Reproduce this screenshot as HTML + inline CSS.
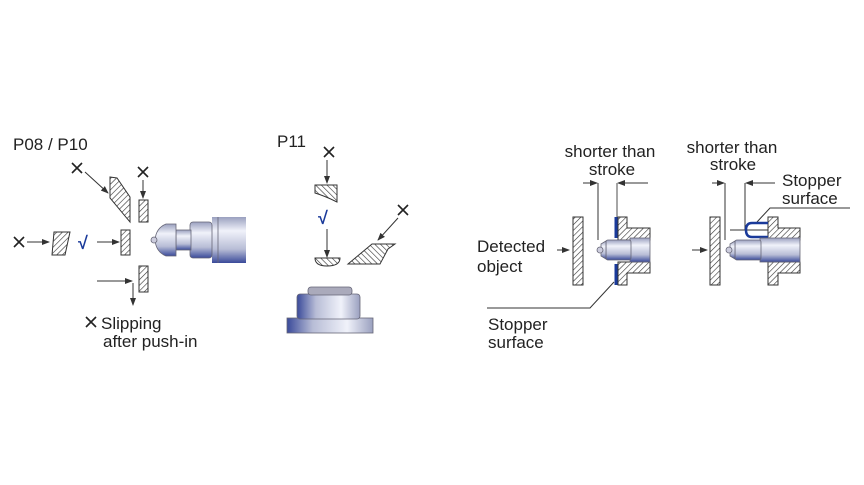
<!DOCTYPE html>
<html><head><meta charset="utf-8"><style>
html,body{margin:0;padding:0;background:#fff;width:864px;height:485px;overflow:hidden}
text{font-family:"Liberation Sans",sans-serif;fill:#222}
</style></head><body>
<svg width="864" height="485" viewBox="0 0 864 485" xmlns="http://www.w3.org/2000/svg">
<defs>
<pattern id="h" patternUnits="userSpaceOnUse" width="4" height="4" patternTransform="rotate(45)">
<rect width="4" height="4" fill="#fff"/><line x1="0" y1="0" x2="0" y2="4" stroke="#333" stroke-width="1.2"/></pattern>
<pattern id="h2" patternUnits="userSpaceOnUse" width="4" height="4" patternTransform="rotate(-45)">
<rect width="4" height="4" fill="#fff"/><line x1="0" y1="0" x2="0" y2="4" stroke="#333" stroke-width="1.2"/></pattern>
<linearGradient id="cyl" x1="0" y1="0" x2="0" y2="1">
<stop offset="0" stop-color="#9aa0bf"/><stop offset="0.3" stop-color="#f0f2fa"/><stop offset="0.7" stop-color="#b8bdd6"/><stop offset="1" stop-color="#3a4a9a"/></linearGradient>
<linearGradient id="cylh" x1="0" y1="0" x2="1" y2="0">
<stop offset="0" stop-color="#3a4a9a"/><stop offset="0.3" stop-color="#b8bdd6"/><stop offset="0.7" stop-color="#f0f2fa"/><stop offset="1" stop-color="#9aa0bf"/></linearGradient>
<marker id="a" markerWidth="8" markerHeight="6" refX="7" refY="3" orient="auto" markerUnits="userSpaceOnUse"><path d="M0,0L8,3L0,6z" fill="#333"/></marker>
</defs>
<g stroke="#222" stroke-width="1.6">
<path d="M72,163L82,173M82,163L72,173"/>
<path d="M138,167L148,177M148,167L138,177"/>
<path d="M14,237L24,247M24,237L14,247"/>
<path d="M324,147L334,157M334,147L324,157"/>
<path d="M398,205L408,215M408,205L398,215"/>
<path d="M86,317L96,327M96,317L86,327"/>
</g>
<g stroke="#333" stroke-width="1" fill="none">
<path d="M110,177L117,178L130,197L130,222L110,198Z" fill="url(#h)"/>
<line x1="85" y1="172" x2="108" y2="193" marker-end="url(#a)"/>
<line x1="143" y1="180" x2="143" y2="198" marker-end="url(#a)"/>
<rect x="139" y="200" width="9" height="22" fill="url(#h)"/>
<line x1="27" y1="242" x2="49" y2="242" marker-end="url(#a)"/>
<path d="M54,232L70,232L65,255L52,255Z" fill="url(#h)"/>
<line x1="97" y1="242" x2="119" y2="242" marker-end="url(#a)"/>
<rect x="121" y="230" width="9" height="25" fill="url(#h)"/>
<rect x="139" y="266" width="9" height="26" fill="url(#h)"/>
<line x1="97" y1="281" x2="132" y2="281" marker-end="url(#a)"/>
<line x1="133" y1="283" x2="133" y2="305" marker-end="url(#a)"/>
</g>
<g stroke="#667" stroke-width="0.8">
<rect x="212" y="217" width="34" height="46" fill="url(#cyl)" stroke="none"/>
<line x1="218" y1="217" x2="218" y2="263"/>
<rect x="190" y="222" width="22" height="36" rx="3" fill="url(#cyl)"/>
<rect x="176" y="230" width="15" height="20" fill="url(#cyl)"/>
<path d="M176,224L166,224Q156,228 155,240Q156,252 166,256L176,256Z" fill="url(#cyl)"/>
<circle cx="154" cy="240" r="3" fill="#ccd"/>
</g>
<text x="13" y="150" font-size="17">P08 / P10</text>
<text x="78" y="249" font-size="18" style="fill:#1a3a9a" font-weight="bold">√</text>
<text x="101" y="329" font-size="17">Slipping</text>
<text x="103" y="347" font-size="17">after push-in</text>

<text x="277" y="147" font-size="17">P11</text>
<text x="318" y="224" font-size="18" style="fill:#1a3a9a" font-weight="bold">√</text>
<g stroke="#333" stroke-width="1" fill="none">
<line x1="327" y1="160" x2="327" y2="183" marker-end="url(#a)"/>
<path d="M315,185L337,185L337,202Q325,196 315,193Z" fill="url(#h2)"/>
<line x1="327" y1="229" x2="327" y2="257" marker-end="url(#a)"/>
<path d="M315,258L340,258Q340,266 327,266Q315,266 315,258Z" fill="url(#h2)"/>
<path d="M348,264L372,244L395,244L388,249L380,264Z" fill="url(#h2)"/>
<line x1="398" y1="218" x2="378" y2="240" marker-end="url(#a)"/>
</g>
<g stroke="#667" stroke-width="0.8">
<rect x="287" y="318" width="86" height="15" fill="url(#cylh)"/>
<rect x="297" y="294" width="63" height="25" rx="3" fill="url(#cylh)"/>
<rect x="308" y="287" width="44" height="8" rx="3" fill="#aab"/>
</g>

<text x="610" y="157" font-size="17" text-anchor="middle">shorter than</text>
<text x="612" y="175" font-size="17" text-anchor="middle">stroke</text>
<text x="732" y="153" font-size="17" text-anchor="middle">shorter than</text>
<text x="733" y="170" font-size="17" text-anchor="middle">stroke</text>
<text x="477" y="252" font-size="17">Detected</text>
<text x="477" y="272" font-size="17">object</text>
<text x="488" y="330" font-size="17">Stopper</text>
<text x="488" y="348" font-size="17">surface</text>
<text x="782" y="186" font-size="17">Stopper</text>
<text x="782" y="204" font-size="17">surface</text>
<g stroke="#333" stroke-width="1" fill="none">
<line x1="583" y1="183" x2="597" y2="183" marker-end="url(#a)"/>
<line x1="648" y1="183" x2="618" y2="183" marker-end="url(#a)"/>
<line x1="598" y1="183" x2="598" y2="240"/>
<line x1="617" y1="183" x2="617" y2="218" stroke="#888" stroke-width="1.5"/>
<rect x="573" y="217" width="10" height="68" fill="url(#h)"/>
<line x1="557" y1="250" x2="569" y2="250" marker-end="url(#a)"/>
<path d="M618,217L627,217L627,228L650,228L650,240L618,240Z" fill="url(#h)"/>
<path d="M618,262L650,262L650,273L627,273L627,285L618,285Z" fill="url(#h)"/>
<polyline points="487,308 590,308 614,282"/>
<line x1="712" y1="183" x2="724" y2="183" marker-end="url(#a)"/>
<line x1="775" y1="183" x2="746" y2="183" marker-end="url(#a)"/>
<line x1="725" y1="183" x2="725" y2="240"/>
<line x1="745" y1="183" x2="745" y2="230"/>
<rect x="710" y="217" width="10" height="68" fill="url(#h)"/>
<line x1="692" y1="250" x2="707" y2="250" marker-end="url(#a)"/>
<path d="M768,217L778,217L778,228L800,228L800,240L768,240Z" fill="url(#h)"/>
<path d="M768,262L800,262L800,273L778,273L778,285L768,285Z" fill="url(#h)"/>
<line x1="730" y1="230" x2="768" y2="230"/>
<polyline points="850,208 770,208 757,222"/>
</g>
<line x1="616" y1="217" x2="616" y2="238" stroke="#1a3a9a" stroke-width="3"/>
<line x1="616" y1="264" x2="616" y2="285" stroke="#1a3a9a" stroke-width="3"/>
<path d="M768,223L752,223Q746,223 746,230Q746,237 752,237L768,237" stroke="#1a3a9a" stroke-width="2.5" fill="none"/>
<g stroke="#667" stroke-width="0.8">
<rect x="630" y="238" width="20" height="24" fill="url(#cyl)"/>
<rect x="606" y="240" width="25" height="20" rx="2" fill="url(#cyl)"/>
<path d="M601,244L606,241L606,259L601,256Z" fill="url(#cyl)"/>
<circle cx="600" cy="250" r="3" fill="#ccd"/>
<rect x="760" y="238" width="40" height="24" fill="url(#cyl)"/>
<rect x="735" y="240" width="26" height="20" rx="2" fill="url(#cyl)"/>
<path d="M730,244L735,241L735,259L730,256Z" fill="url(#cyl)"/>
<circle cx="729" cy="250" r="3" fill="#ccd"/>
</g>
</svg>
</body></html>
